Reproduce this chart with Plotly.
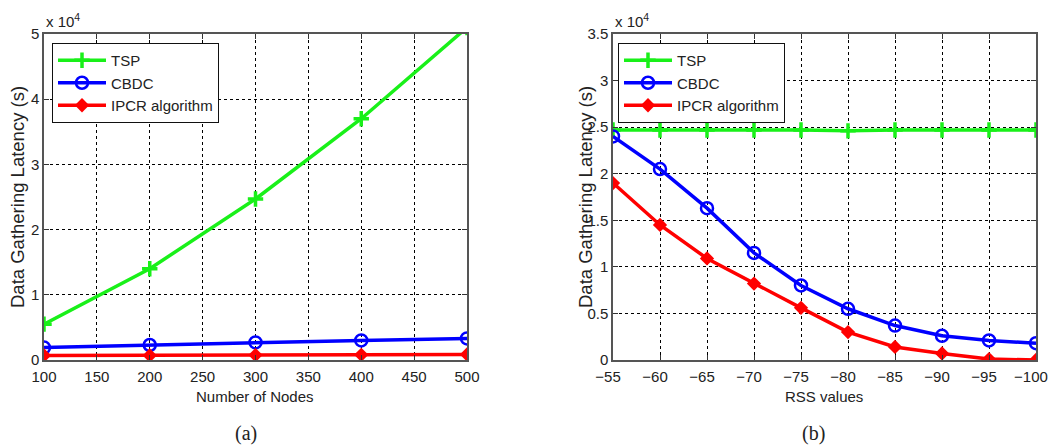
import plotly.graph_objects as go

# ---- data ----
nodes = [100, 200, 300, 400, 500]
tsp_a = [0.55, 1.40, 2.47, 3.70, 5.10]
cbdc_a = [0.19, 0.23, 0.27, 0.30, 0.33]
ipcr_a = [0.07, 0.07, 0.075, 0.08, 0.085]

rss = [-55, -60, -65, -70, -75, -80, -85, -90, -95, -100]
tsp_b = [2.47, 2.47, 2.47, 2.47, 2.47, 2.46, 2.47, 2.47, 2.47, 2.47]
cbdc_b = [2.40, 2.05, 1.63, 1.15, 0.80, 0.55, 0.37, 0.26, 0.21, 0.18]
ipcr_b = [1.90, 1.45, 1.09, 0.82, 0.56, 0.30, 0.14, 0.07, 0.01, 0.00]

ticks_a_x = [100, 150, 200, 250, 300, 350, 400, 450, 500]
ticks_a_y = [0, 1, 2, 3, 4, 5]
ticks_b_x = [-55, -60, -65, -70, -75, -80, -85, -90, -95, -100]
ticks_b_x_text = ["\u221255", "\u221260", "\u221265", "\u221270", "\u221275",
                  "\u221280", "\u221285", "\u221290", "\u221295", "\u2212100"]
ticks_b_y = [0, 0.5, 1, 1.5, 2, 2.5, 3, 3.5]

GREEN = "#19f019"
BLUE = "#0000ff"
RED = "#ff0000"
W, H = 1050, 446
FONT = "Liberation Sans, Arial, Helvetica"

def px_x(p):
    return p / W

def px_y(p):
    return 1 - p / H

fig = go.Figure()

def add_series(x, y, name, color, symbol, xa, ya, legend, open_marker=False):
    if symbol == "cross-thin":
        marker = dict(symbol="cross-thin", size=11, color=color, line=dict(color=color, width=3.5))
    elif open_marker:
        marker = dict(symbol="circle-open", size=12, color=color, line=dict(color=color, width=2.5))
    else:
        marker = dict(symbol=symbol, size=11, color=color, line=dict(color=color, width=0))
    fig.add_trace(go.Scatter(x=x, y=y, name=name, mode="lines+markers",
                             line=dict(color=color, width=3.5), marker=marker,
                             xaxis=xa, yaxis=ya, legend=legend, cliponaxis=True))

add_series(nodes, tsp_a, "TSP", GREEN, "cross-thin", "x", "y", "legend")
add_series(nodes, cbdc_a, "CBDC", BLUE, "circle", "x", "y", "legend", open_marker=True)
add_series(nodes, ipcr_a, "IPCR algorithm", RED, "diamond", "x", "y", "legend")

add_series(rss, tsp_b, "TSP", GREEN, "cross-thin", "x2", "y2", "legend2")
add_series(rss, cbdc_b, "CBDC", BLUE, "circle", "x2", "y2", "legend2", open_marker=True)
add_series(rss, ipcr_b, "IPCR algorithm", RED, "diamond", "x2", "y2", "legend2")

tickfont = dict(family=FONT, size=15, color="#222")
axis_common = dict(showline=True, linecolor="#555", linewidth=1.5, mirror="ticks",
                   ticks="inside", ticklen=5, tickcolor="#333",
                   showgrid=True, gridcolor="#000", griddash="dot", gridwidth=1,
                   zeroline=False, tickfont=tickfont, automargin=False,
                   ticklabeloverflow="allow")

y_dom = [px_y(360), px_y(34)]
legend_common = dict(xanchor="left", yanchor="top",
                     bordercolor="#111", borderwidth=1, bgcolor="white",
                     font=dict(family=FONT, size=15, color="#222"),
                     tracegroupgap=0, itemwidth=48)
fig.update_layout(
    width=W, height=H, margin=dict(l=0, r=0, t=0, b=0, pad=0, autoexpand=False),
    paper_bgcolor="white", plot_bgcolor="white",
    xaxis=dict(domain=[px_x(44), px_x(467)], range=[100, 500], tickvals=ticks_a_x,
               anchor="y", ticklabelstandoff=2, **axis_common),
    yaxis=dict(domain=y_dom, range=[0, 5], tickvals=ticks_a_y, anchor="x", **axis_common),
    xaxis2=dict(domain=[px_x(613), px_x(1036)], range=[-55, -100], tickvals=ticks_b_x,
                ticktext=ticks_b_x_text, anchor="y2", ticklabelstandoff=2,
                ticklabelshift=5, **axis_common),
    yaxis2=dict(domain=y_dom, range=[0, 3.5], tickvals=ticks_b_y, anchor="x2", **axis_common),
    legend=dict(x=px_x(52), y=px_y(43), **legend_common),
    legend2=dict(x=px_x(618), y=px_y(43), **legend_common),
    showlegend=True,
)

annot_font = dict(family=FONT, size=15, color="#222")
title_y_font = dict(family=FONT, size=18.5, color="#222")
ann = [
    # x axis titles
    dict(x=px_x(255), y=px_y(396), text="Number of Nodes", font=annot_font),
    dict(x=px_x(824), y=px_y(396), text="RSS values", font=annot_font),
    # y axis titles
    dict(x=px_x(17), y=px_y(197), text="Data Gathering Latency (s)", textangle=-90, font=title_y_font),
    dict(x=px_x(585), y=px_y(197), text="Data Gathering Latency (s)", textangle=-90, font=title_y_font),
    # exponent labels
    dict(x=px_x(44), y=px_y(20), text="x 10<sup>4</sup>", xanchor="left", font=dict(family=FONT, size=15, color="#222")),
    dict(x=px_x(613), y=px_y(20), text="x 10<sup>4</sup>", xanchor="left", font=dict(family=FONT, size=15, color="#222")),
    # captions
    dict(x=px_x(246), y=px_y(433), text="(a)", font=dict(family="Liberation Serif, Times New Roman", size=20, color="#222")),
    dict(x=px_x(813), y=px_y(433), text="(b)", font=dict(family="Liberation Serif, Times New Roman", size=20, color="#222")),
]
for a in ann:
    a.setdefault("xanchor", "center")
    fig.add_annotation(xref="paper", yref="paper", showarrow=False, yanchor="middle", **a)

fig.write_html("out.html")
